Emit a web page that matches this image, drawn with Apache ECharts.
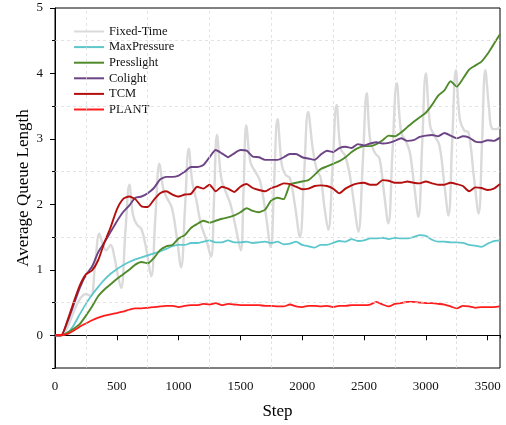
<!DOCTYPE html>
<html>
<head>
<meta charset="utf-8">
<title>Average Queue Length</title>
<script src="https://cdn.jsdelivr.net/npm/echarts@6/dist/echarts.min.js"></script>
</head>
<body style="margin:0; background:#fff">
<div id="main" style="width:506px;height:425px"></div>
<script>
// sample steps shared by the smoother curves
var steps = [
  0, 50, 100, 150, 200, 250, 300, 350, 400, 450,
  500, 550, 600, 650, 700, 750, 800, 850, 900, 950,
  1000, 1050, 1100, 1150, 1200, 1250, 1300, 1350, 1400, 1450,
  1500, 1550, 1600, 1650, 1700, 1750, 1800, 1850, 1900, 1950,
  2000, 2050, 2100, 2150, 2200, 2250, 2300, 2350, 2400, 2450,
  2500, 2550, 2600, 2650, 2700, 2750, 2800, 2850, 2900, 2950,
  3000, 3050, 3100, 3150, 3200, 3250, 3300, 3350, 3400, 3450,
  3500, 3550, 3600
];

var maxPressure = [
  0, 0, 0.03, 0.15, 0.32, 0.48, 0.62, 0.74, 0.85, 0.94,
  1.01, 1.07, 1.12, 1.16, 1.19, 1.22, 1.25, 1.28, 1.32, 1.36,
  1.38, 1.38, 1.41, 1.41, 1.43, 1.45, 1.42, 1.42, 1.45, 1.42,
  1.42, 1.43, 1.41, 1.42, 1.43, 1.41, 1.43, 1.39, 1.40, 1.43,
  1.38, 1.36, 1.34, 1.38, 1.38, 1.41, 1.44, 1.43, 1.47, 1.44,
  1.45, 1.48, 1.48, 1.49, 1.47, 1.49, 1.48, 1.48, 1.50, 1.53,
  1.52, 1.46, 1.43, 1.43, 1.42, 1.42, 1.41, 1.38, 1.37, 1.35,
  1.40, 1.44, 1.45
];

var presslight = [
  0, 0, 0.04, 0.10, 0.17, 0.30, 0.44, 0.60, 0.70, 0.78,
  0.86, 0.93, 1.00, 1.08, 1.12, 1.10, 1.18, 1.30, 1.36, 1.38,
  1.48, 1.53, 1.64, 1.70, 1.75, 1.72, 1.75, 1.78, 1.80, 1.83,
  1.88, 1.94, 1.90, 1.88, 1.92, 2.06, 2.10, 2.08, 2.30, 2.33,
  2.35, 2.37, 2.45, 2.54, 2.58, 2.62, 2.66, 2.72, 2.80, 2.86,
  2.89, 2.89, 2.92, 2.98, 3.05, 3.04, 3.10, 3.18, 3.26, 3.33,
  3.40, 3.52, 3.66, 3.74, 3.88, 3.80, 3.92, 4.06, 4.12, 4.18,
  4.30, 4.45, 4.60
];

var colight = [
  0, 0, 0.20, 0.46, 0.72, 0.92, 1.05, 1.27, 1.42, 1.58,
  1.74, 1.88, 1.98, 2.10, 2.12, 2.17, 2.25, 2.38, 2.42, 2.42,
  2.44, 2.50, 2.57, 2.57, 2.60, 2.72, 2.83, 2.78, 2.72, 2.78,
  2.83, 2.82, 2.73, 2.72, 2.68, 2.68, 2.68, 2.72, 2.77, 2.77,
  2.72, 2.70, 2.68, 2.76, 2.82, 2.80, 2.86, 2.88, 2.86, 2.92,
  2.90, 2.93, 2.95, 2.93, 2.94, 2.97, 3.01, 2.97, 2.98, 3.03,
  3.05, 3.06, 3.04, 3.09, 3.05, 3.01, 3.04, 3.02, 2.96, 2.95,
  2.98, 2.97, 3.02
];

var tcm = [
  0, 0, 0.22, 0.50, 0.76, 0.93, 0.99, 1.15, 1.42, 1.65,
  1.92, 2.08, 2.12, 2.08, 1.97, 1.96, 2.07, 2.17, 2.20, 2.15,
  2.12, 2.15, 2.16, 2.27, 2.24, 2.30, 2.20, 2.27, 2.24, 2.19,
  2.27, 2.31, 2.25, 2.22, 2.20, 2.25, 2.28, 2.32, 2.31, 2.27,
  2.23, 2.24, 2.28, 2.29, 2.28, 2.24, 2.17, 2.24, 2.29, 2.32,
  2.33, 2.30, 2.30, 2.37, 2.36, 2.33, 2.33, 2.35, 2.33, 2.32,
  2.35, 2.32, 2.30, 2.30, 2.33, 2.31, 2.28, 2.20, 2.26, 2.25,
  2.22, 2.24, 2.31
];

var plant = [
  0, 0, 0.02, 0.07, 0.13, 0.18, 0.23, 0.27, 0.30, 0.32,
  0.34, 0.36, 0.39, 0.41, 0.41, 0.42, 0.43, 0.44, 0.45, 0.45,
  0.43, 0.45, 0.46, 0.46, 0.48, 0.47, 0.49, 0.46, 0.48, 0.47,
  0.46, 0.46, 0.46, 0.46, 0.45, 0.45, 0.44, 0.44, 0.47, 0.44,
  0.43, 0.45, 0.45, 0.44, 0.45, 0.43, 0.45, 0.45, 0.46, 0.46,
  0.46, 0.47, 0.51, 0.47, 0.44, 0.48, 0.49, 0.51, 0.51, 0.50,
  0.49, 0.49, 0.48, 0.47, 0.44, 0.41, 0.45, 0.44, 0.42, 0.43,
  0.43, 0.43, 0.44
];

// fixed-time oscillates, so it has its own (denser) steps
var fixedSteps = [
  0, 50, 100, 150, 200, 250, 290, 325, 359, 385, 415, 450, 480, 510,
  535, 570, 602, 630, 660, 700, 740,
  778, 812, 845, 875, 905, 945, 985,
  1020, 1052, 1082, 1110, 1145, 1180, 1225,
  1262, 1287, 1310, 1345, 1380, 1420, 1465,
  1503, 1525, 1548, 1580, 1620, 1660, 1705,
  1745, 1772, 1800, 1835, 1865, 1900, 1940,
  1981, 2015, 2048, 2085, 2115, 2150, 2180,
  2211, 2245, 2278, 2310, 2345, 2385, 2420,
  2454, 2490, 2522, 2550, 2590, 2625, 2660,
  2697, 2730, 2765, 2800, 2835, 2870, 2905,
  2940, 2970, 3000, 3035, 3070, 3110, 3150,
  3183, 3213, 3243, 3275, 3310, 3345, 3390,
  3427, 3455, 3481, 3510, 3535, 3570, 3600
];
var fixedTime = [
  0, 0, 0.12, 0.35, 0.55, 0.63, 0.60, 1.10, 1.55, 1.40, 1.30, 1.38, 1.20, 0.90,
  0.72, 1.60, 2.30, 1.85, 1.70, 1.62, 1.30,
  0.90, 1.80, 2.62, 2.25, 2.10, 1.95, 1.50,
  1.04, 1.95, 2.85, 2.35, 2.05, 1.70, 1.45,
  1.20, 2.10, 3.06, 2.40, 2.20, 2.00, 1.62,
  1.30, 2.20, 3.21, 2.65, 2.50, 2.35, 1.85,
  1.35, 2.30, 3.30, 2.60, 2.45, 2.40, 2.00,
  1.50, 2.45, 3.41, 2.85, 2.55, 2.40, 1.95,
  1.61, 2.55, 3.52, 2.85, 2.75, 2.45, 2.00,
  1.58, 2.65, 3.70, 2.98, 2.78, 2.70, 2.20,
  1.71, 2.80, 3.85, 3.10, 2.98, 2.80, 2.30,
  1.81, 2.90, 4.00, 3.20, 3.05, 2.90, 2.30,
  1.83, 2.95, 4.05, 3.30, 3.13, 3.10, 2.40,
  1.86, 2.95, 4.05, 3.50, 3.16, 3.15, 3.18
];

var yTicks = [0, 1, 2, 3, 4, 5];
var gridX = [250, 750, 1250, 1750, 2250, 2750, 3250];
var gridY = [0.5, 1.5, 2.5, 3.5, 4.5];

var names = ['Fixed-Time', 'MaxPressure', 'Presslight', 'Colight', 'TCM', 'PLANT'];
var colors = ['#dadada', '#5cc7cc', '#4f8a2b', '#6c4486', '#b40f0f', '#ff1c1c'];

function pairs(xs, ys) {
  return xs.map(function (x, i) { return [x, ys[i]]; });
}

var font = 'Liberation Serif';
var chart = echarts.init(document.getElementById('main'));

function lineSeries(name, data, color, width, smooth) {
  return {
    name: name,
    type: 'line',
    data: data,
    symbol: 'none',
    smooth: smooth,
    xAxisIndex: 0,
    yAxisIndex: 0,
    lineStyle: { color: color, width: width },
    itemStyle: { color: color }
  };
}

var gridLines = gridX.map(function (v) { return { xAxis: v }; })
  .concat(gridY.map(function (v) { return { yAxis: v }; }));

var plain = function (v) { return String(v); };

var option = {
  backgroundColor: '#fff',
  animation: false,
  color: colors,
  textStyle: { fontFamily: font },
  grid: {
    left: 55, right: 6, top: 8, bottom: 57,
    show: true, borderColor: '#000', borderWidth: 1
  },
  legend: {
    data: names,
    orient: 'vertical',
    left: 68,
    top: 20,
    itemWidth: 30,
    itemHeight: 6,
    itemGap: 2.6,
    // hide the marker drawn on the legend line, keep the line
    itemStyle: { opacity: 0 },
    lineStyle: { width: 2 },
    textStyle: { fontFamily: font, fontSize: 12.5, color: '#111' }
  },
  xAxis: [{
    type: 'value', position: 'bottom',
    min: 0, max: 3600, interval: 500,
    name: 'Step', nameLocation: 'middle', nameGap: 35,
    nameTextStyle: { fontFamily: font, fontSize: 17, color: '#000' },
    axisLine: { show: true, lineStyle: { color: '#000', width: 1 } },
    axisTick: { show: true, length: 5, lineStyle: { color: '#000' } },
    axisLabel: { color: '#111', fontFamily: font, fontSize: 13, margin: 12, showMaxLabel: false, formatter: plain },
    splitLine: { show: false }
  }, {
    type: 'value', position: 'bottom',
    min: 0, max: 3600, interval: 250,
    axisLine: { show: false },
    axisTick: { show: true, length: 3, lineStyle: { color: '#000' } },
    axisLabel: { show: false },
    splitLine: { show: false }
  }],
  yAxis: [{
    type: 'value', position: 'left',
    min: -0.5, max: 5, interval: 0.5,
    axisLine: { show: true, lineStyle: { color: '#000', width: 1 } },
    axisTick: { show: true, length: 3, lineStyle: { color: '#000' } },
    axisLabel: { show: false },
    splitLine: { show: false }
  }, {
    type: 'value', position: 'left',
    min: -0.5, max: 5,
    name: 'Average Queue Length', nameLocation: 'middle', nameGap: 23,
    nameMoveOverlap: false,
    nameTextStyle: { fontFamily: font, fontSize: 17, color: '#000' },
    axisLine: { show: false },
    axisTick: { show: true, length: 5, customValues: yTicks, lineStyle: { color: '#000' } },
    axisLabel: { customValues: yTicks, color: '#111', fontFamily: font, fontSize: 13, margin: 12, formatter: plain },
    splitLine: { show: false }
  }],
  series: [{
    name: 'grid',
    type: 'line',
    data: [],
    xAxisIndex: 0,
    yAxisIndex: 0,
    silent: true,
    markLine: {
      silent: true,
      symbol: ['none', 'none'],
      label: { show: false },
      lineStyle: { color: '#d8d8d8', width: 0.7, type: [3, 3] },
      data: gridLines
    }
  },
    lineSeries(names[0], pairs(fixedSteps, fixedTime), colors[0], 2.4, 0.4),
    lineSeries(names[1], pairs(steps, maxPressure), colors[1], 1.8, 0.2),
    lineSeries(names[2], pairs(steps, presslight), colors[2], 1.9, 0.2),
    lineSeries(names[3], pairs(steps, colight), colors[3], 1.9, 0.2),
    lineSeries(names[4], pairs(steps, tcm), colors[4], 1.9, 0.2),
    lineSeries(names[5], pairs(steps, plant), colors[5], 1.8, 0.2)
  ]
};

chart.setOption(option);
</script>
</body>
</html>
